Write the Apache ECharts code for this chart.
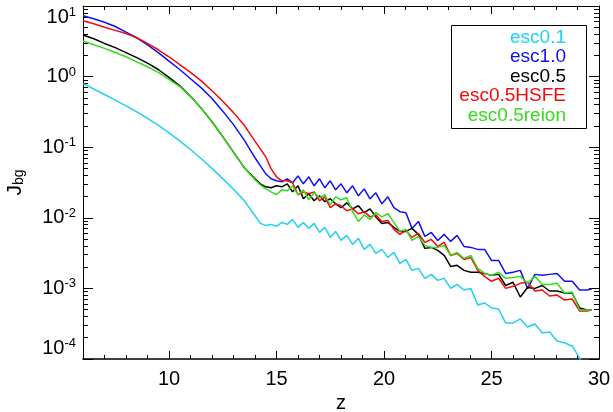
<!DOCTYPE html>
<html>
<head>
<meta charset="utf-8">
<script src="https://cdn.jsdelivr.net/npm/echarts@6/dist/echarts.min.js"></script>
<style>
html,body{margin:0;padding:0;background:#fff;}
#chart{width:613px;height:412px;}
</style>
</head>
<body>
<div id="chart"></div>
<script>
// ---- data ----
const seriesNames = ['esc0.1', 'esc1.0', 'esc0.5', 'esc0.5HSFE', 'esc0.5reion'];
const seriesColors = ['#22d0f2', '#1010f5', '#000000', '#f50a0a', '#35dc1c'];

const zValues = [6, 6.5, 7, 7.5, 8, 8.5, 9, 9.5, 10, 10.5, 11, 11.5, 12, 12.5, 13, 13.5,
  14, 14.25, 14.5, 14.75, 15, 15.25, 15.5, 15.75, 16, 16.25, 16.5, 16.75, 17, 17.25, 17.5, 17.75, 18,
  18.27, 18.54, 18.81, 19.08, 19.35, 19.62, 19.9,
  20.18, 20.46, 20.74, 21.02, 21.3,
  21.6, 21.9, 22.2, 22.5, 22.8, 23.1, 23.4,
  23.72, 24.04, 24.36, 24.68, 25,
  25.33, 25.66, 26, 26.34, 26.68,
  27.02, 27.36, 27.7, 28.05, 28.4, 28.75, 29.1, 29.45, 29.65];

const jEsc01 = [0.794, 0.668, 0.558, 0.465, 0.385, 0.316, 0.257, 0.205, 0.16, 0.123, 0.0927, 0.0687, 0.0501, 0.0359, 0.0253, 0.0175,
  0.0107, 0.00833, 0.0078, 0.00806, 0.00755, 0.0086, 0.00806, 0.00949, 0.00731, 0.0086, 0.00708, 0.00833, 0.00621, 0.00731, 0.00528, 0.00642, 0.00478,
  0.00563, 0.0042, 0.00511, 0.00357, 0.0042, 0.00313, 0.00357,
  0.00275, 0.00323, 0.00226, 0.00257, 0.0018,
  0.00192, 0.00139, 0.00158, 0.0013, 0.00139, 0.001, 0.00114,
  0.000949, 0.001, 0.000582, 0.000621, 0.000528,
  0.000511, 0.000323, 0.000323, 0.000369, 0.000284,
  0.000313, 0.000233, 0.000241, 0.00018, 0.000169, 0.000153, 0.000103, 0.000065, null];

const jEsc10 = [7.29, 6.61, 5.89, 5.13, 4.27, 3.55, 2.82, 2.19, 1.66, 1.26, 0.933, 0.692, 0.49, 0.324, 0.209, 0.126,
  0.0708, 0.0545, 0.042, 0.0357, 0.0334, 0.0323, 0.0357, 0.0313, 0.0393, 0.0303, 0.0381, 0.0284, 0.0357, 0.0266, 0.0334, 0.0249, 0.0303,
  0.0226, 0.0284, 0.0205, 0.0257, 0.0186, 0.0226, 0.0158,
  0.0198, 0.0139, 0.0122, 0.0118, 0.00708,
  0.00889, 0.00545, 0.00621, 0.00478, 0.00582, 0.00463, 0.00563,
  0.00393, 0.00381, 0.00357, 0.00357, 0.00249,
  0.00249, 0.00163, 0.00169, 0.0018, 0.001,
  0.00158, 0.00153, 0.00158, 0.00163, 0.00126, 0.00126, 0.000949, 0.000949, 0.00098];

const jEsc05 = [3.88, 3.43, 2.95, 2.57, 2.19, 1.86, 1.55, 1.26, 0.977, 0.741, 0.525, 0.355, 0.229, 0.141, 0.0851, 0.0513,
  0.0357, 0.0303, 0.0275, 0.0266, 0.0284, 0.0275, 0.0303, 0.0233, 0.0284, 0.0186, 0.0219, 0.0174, 0.0205, 0.0169, 0.0186, 0.0158, 0.0139,
  0.0163, 0.0134, 0.0148, 0.0118, 0.0134, 0.0103, 0.00833,
  0.0086, 0.00731, 0.00642, 0.00642, 0.00708,
  0.00582, 0.00369, 0.00381, 0.00345, 0.00293, 0.00205, 0.00212,
  0.0018, 0.00169, 0.00169, 0.00163, 0.00153,
  0.00158, 0.0011, 0.00122, 0.000755, 0.00103,
  0.001, 0.0011, 0.000918, 0.000918, 0.00086, 0.00086, 0.000528, 0.000494, 0.000494];

const jEsc05HSFE = [6.19, 5.62, 5.01, 4.52, 4.07, 3.55, 2.95, 2.40, 1.91, 1.48, 1.15, 0.871, 0.631, 0.447, 0.309, 0.204,
  0.122, 0.0949, 0.0731, 0.0494, 0.0381, 0.0334, 0.0334, 0.0313, 0.0212, 0.0233, 0.0219, 0.0233, 0.0174, 0.0198, 0.0139, 0.0158, 0.0148,
  0.0126, 0.0134, 0.0114, 0.0122, 0.0103, 0.011, 0.00889,
  0.00918, 0.00685, 0.00582, 0.00663, 0.00528,
  0.00601, 0.00448, 0.00494, 0.00393, 0.00448, 0.00293, 0.00313,
  0.00257, 0.00275, 0.0018, 0.00148, 0.00126,
  0.00139, 0.001, 0.00107, 0.00118, 0.00122,
  0.000918, 0.000949, 0.00078, 0.000806, 0.000685, 0.000708, 0.000478, 0.000478, 0.000494];

const jEsc05reion = [3.19, 2.82, 2.51, 2.19, 1.91, 1.62, 1.38, 1.15, 0.912, 0.724, 0.525, 0.355, 0.229, 0.141, 0.0851, 0.0513,
  0.0345, 0.0293, 0.0257, 0.0233, 0.0212, 0.0249, 0.0241, 0.0284, 0.0212, 0.0249, 0.018, 0.0226, 0.0192, 0.0212, 0.0153, 0.0198, 0.018,
  0.0192, 0.0122, 0.00889, 0.011, 0.00949, 0.0118, 0.0103,
  0.0114, 0.0086, 0.00642, 0.00685, 0.00478,
  0.00545, 0.00406, 0.00381, 0.00381, 0.00406, 0.00293, 0.00323,
  0.00266, 0.00293, 0.00192, 0.00163, 0.00153,
  0.00169, 0.00139, 0.00143, 0.00148, 0.00118,
  0.00148, 0.00114, 0.00114, 0.00118, 0.00086, 0.00089, 0.000494, 0.000494, 0.000494];

// ticks
const xMajorTicks = [10, 15, 20, 25];
const xTickLabels = [10, 15, 20, 25, 30];
const xMinorTicks = [7, 8, 9, 11, 12, 13, 14, 16, 17, 18, 19, 21, 22, 23, 24, 26, 27, 28, 29];
const yMajorTicks = [1e-4, 1e-3, 1e-2, 1e-1, 1, 10];
const yMinorTicks = [2e-4, 3e-4, 4e-4, 5e-4, 6e-4, 7e-4, 8e-4, 9e-4,
  2e-3, 3e-3, 4e-3, 5e-3, 6e-3, 7e-3, 8e-3, 9e-3,
  0.02, 0.03, 0.04, 0.05, 0.06, 0.07, 0.08, 0.09,
  0.2, 0.3, 0.4, 0.5, 0.6, 0.7, 0.8, 0.9,
  2, 3, 4, 5, 6, 7, 8, 9];

const FONT = 'Liberation Sans, Arial, Helvetica, sans-serif';
const allSeries = [jEsc01, jEsc10, jEsc05, jEsc05HSFE, jEsc05reion];

const chart = echarts.init(document.getElementById('chart'), null, {renderer: 'canvas'});

function xAxisDef(grid, pos, major) {
  return {
    gridIndex: grid, type: 'value', position: pos, min: 6, max: 30,
    axisLine: {show: major, onZero: false, lineStyle: {color: '#000', width: pos === 'bottom' ? 1.6 : 1}},
    axisTick: {show: true, inside: true, length: major ? 8 : 4,
      customValues: major ? xMajorTicks : xMinorTicks, lineStyle: {color: '#000', width: 1}},
    axisLabel: {show: false},
    splitLine: {show: false}
  };
}
function yAxisDef(grid, pos, major) {
  return {
    gridIndex: grid, type: 'log', logBase: 10, position: pos, min: 1e-4, max: 10,
    axisLine: {show: major, onZero: false, lineStyle: {color: '#000', width: 1}},
    axisTick: {show: true, inside: true, length: major ? 10 : 5,
      customValues: major ? yMajorTicks : yMinorTicks, lineStyle: {color: '#000', width: 1}},
    axisLabel: {show: false},
    splitLine: {show: false}
  };
}

const xAxes = [xAxisDef(0, 'bottom', true), xAxisDef(0, 'top', true), xAxisDef(1, 'bottom', false), xAxisDef(1, 'top', false)];
xAxes[0].axisLabel = {show: true, customValues: xTickLabels, fontSize: 20, color: '#000', margin: 10, fontFamily: FONT};
xAxes[0].name = 'z';
xAxes[0].nameLocation = 'middle';
xAxes[0].nameGap = 31;
xAxes[0].nameTextStyle = {fontSize: 20, color: '#000', fontFamily: FONT};

const yAxes = [yAxisDef(0, 'left', true), yAxisDef(0, 'right', true), yAxisDef(1, 'left', false), yAxisDef(1, 'right', false)];
yAxes[0].axisLabel = {
  show: true, customValues: yMajorTicks, margin: 7, color: '#000', fontFamily: FONT,
  verticalAlignMaxLabel: 'top', verticalAlignMinLabel: 'bottom',
  formatter: function (v) {
    const e = Math.round(Math.log10(v));
    return '{b|10}{s|' + e + '}';
  },
  rich: {
    b: {fontSize: 20, fontFamily: FONT, color: '#000', lineHeight: 22},
    s: {fontSize: 13, fontFamily: FONT, color: '#000', verticalAlign: 'top', lineHeight: 22, padding: [0, 0, 8, 0]}
  }
};
yAxes[0].name = '{j|J}{s|bg}';
yAxes[0].nameLocation = 'middle';
yAxes[0].nameRotate = 90;
yAxes[0].nameGap = 57;
yAxes[0].nameTextStyle = {
  rich: {
    j: {fontSize: 21, fontFamily: FONT, color: '#000'},
    s: {fontSize: 14, fontFamily: FONT, color: '#000', verticalAlign: 'bottom', padding: [6, 0, 0, 0]}
  }
};

const series = allSeries.map(function (arr, i) {
  const data = [];
  zValues.forEach(function (z, k) { if (arr[k] != null) data.push([z, arr[k]]); });
  return {
    name: seriesNames[i], type: 'line', xAxisIndex: 0, yAxisIndex: 0,
    data: data, showSymbol: false, symbol: 'none', smooth: false, clip: true,
    lineStyle: {color: seriesColors[i], width: 1.5}, z: 2 + i
  };
});

const legendTexts = seriesNames.map(function (n, i) {
  return {
    type: 'text', right: 613 - 566, top: 28 + i * 19.5,
    style: {text: n, fill: seriesColors[i], font: '19px ' + FONT, textAlign: 'right'}
  };
});

chart.setOption({
  animation: false,
  backgroundColor: '#ffffff',
  grid: [
    {left: 83, right: 14, top: 6, bottom: 53, containLabel: false, outerBoundsMode: 'none'},
    {left: 83, right: 14, top: 6, bottom: 53, containLabel: false, outerBoundsMode: 'none'}
  ],
  xAxis: xAxes,
  yAxis: yAxes,
  series: series,
  graphic: [
    {type: 'rect', left: 451, top: 25, shape: {width: 135, height: 103},
      style: {fill: '#fff', stroke: '#000', lineWidth: 1}, z: 100}
  ].concat(legendTexts.map(function (t) { t.z = 101; return t; }))
});
</script>
</body>
</html>
